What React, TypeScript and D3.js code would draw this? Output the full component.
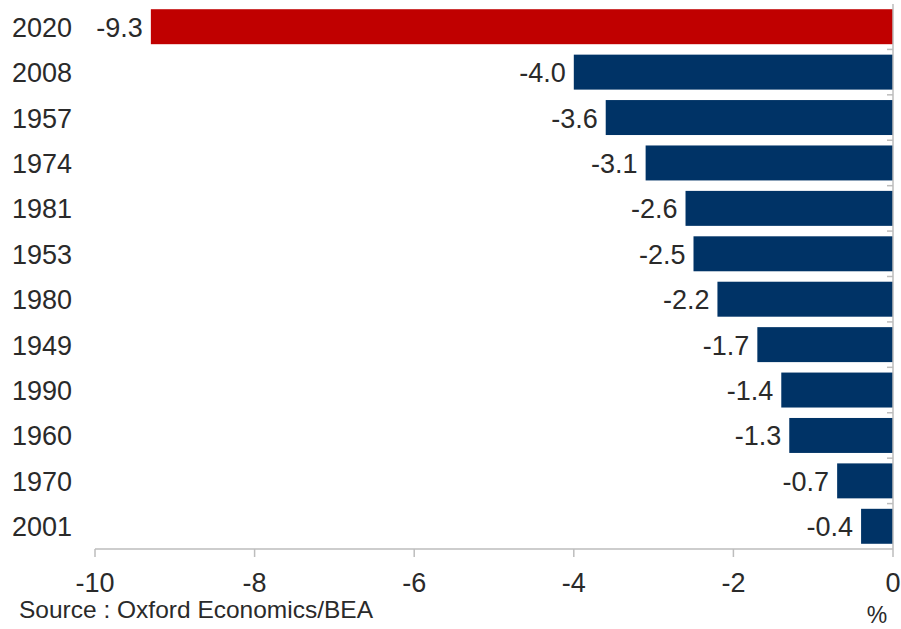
import React from "react";
import * as d3 from "d3";

const years = ["2020", "2008", "1957", "1974", "1981", "1953", "1980", "1949", "1990", "1960", "1970", "2001"];
const values = [-9.3, -4.0, -3.6, -3.1, -2.6, -2.5, -2.2, -1.7, -1.4, -1.3, -0.7, -0.4];
const xTicks = [-10, -8, -6, -4, -2, 0];
const sourceText = "Source : Oxford Economics/BEA";
const unitText = "%";

const W = 901;
const H = 629;
const FONT = "'Liberation Sans', Arial, sans-serif";
const TEXT = "#2a2a2a";
const AXIS = "#bdbdbd";

export default function App() {
  const x = d3.scaleLinear().domain([-10, 0]).range([95, 893]);
  const y = d3.scaleBand<string>().domain(years).range([4, 549]).paddingInner(0.23).paddingOuter(0.115);
  const step = y.step();
  const axisY = 549;

  return (
    <svg width={W} height={H} style={{ position: "absolute", left: 0, top: 0, background: "#fff" }} fontFamily={FONT}>
      {years.map((yr, i) => {
        const v = values[i];
        const by = y(yr)!;
        const cy = by + y.bandwidth() / 2;
        return (
          <g key={yr}>
            <rect x={x(v)} y={by} width={x(0) - x(v)} height={y.bandwidth()} fill={i === 0 ? "#c00000" : "#003366"} />
            <text x={72} y={cy} dy="0.37em" textAnchor="end" fontSize={27} fill={TEXT}>{yr}</text>
            <text x={x(v) - 8} y={cy} dy="0.37em" textAnchor="end" fontSize={27} fill={TEXT}>{v.toFixed(1)}</text>
          </g>
        );
      })}
      {/* vertical axis at 0 */}
      <line x1={x(0)} x2={x(0)} y1={4} y2={axisY} stroke={AXIS} strokeWidth={1.5} />
      {years.slice(1).map((yr) => (
        <line key={"t" + yr} x1={x(0) - 6} x2={x(0)} y1={y(yr)! - (step - y.bandwidth()) / 2} y2={y(yr)! - (step - y.bandwidth()) / 2} stroke={AXIS} strokeWidth={1.5} />
      ))}
      {/* horizontal axis */}
      <line x1={x(-10)} x2={x(0)} y1={axisY} y2={axisY} stroke={AXIS} strokeWidth={1.5} />
      {xTicks.map((t) => (
        <g key={t}>
          <line x1={x(t)} x2={x(t)} y1={axisY} y2={axisY + 8} stroke={AXIS} strokeWidth={1.5} />
          <text x={x(t)} y={592} textAnchor="middle" fontSize={27} fill={TEXT}>{t}</text>
        </g>
      ))}
      <text x={19} y={618} fontSize={24.5} fill={TEXT}>{sourceText}</text>
      <text x={877} y={623} textAnchor="middle" fontSize={23} fill={TEXT}>{unitText}</text>
    </svg>
  );
}
